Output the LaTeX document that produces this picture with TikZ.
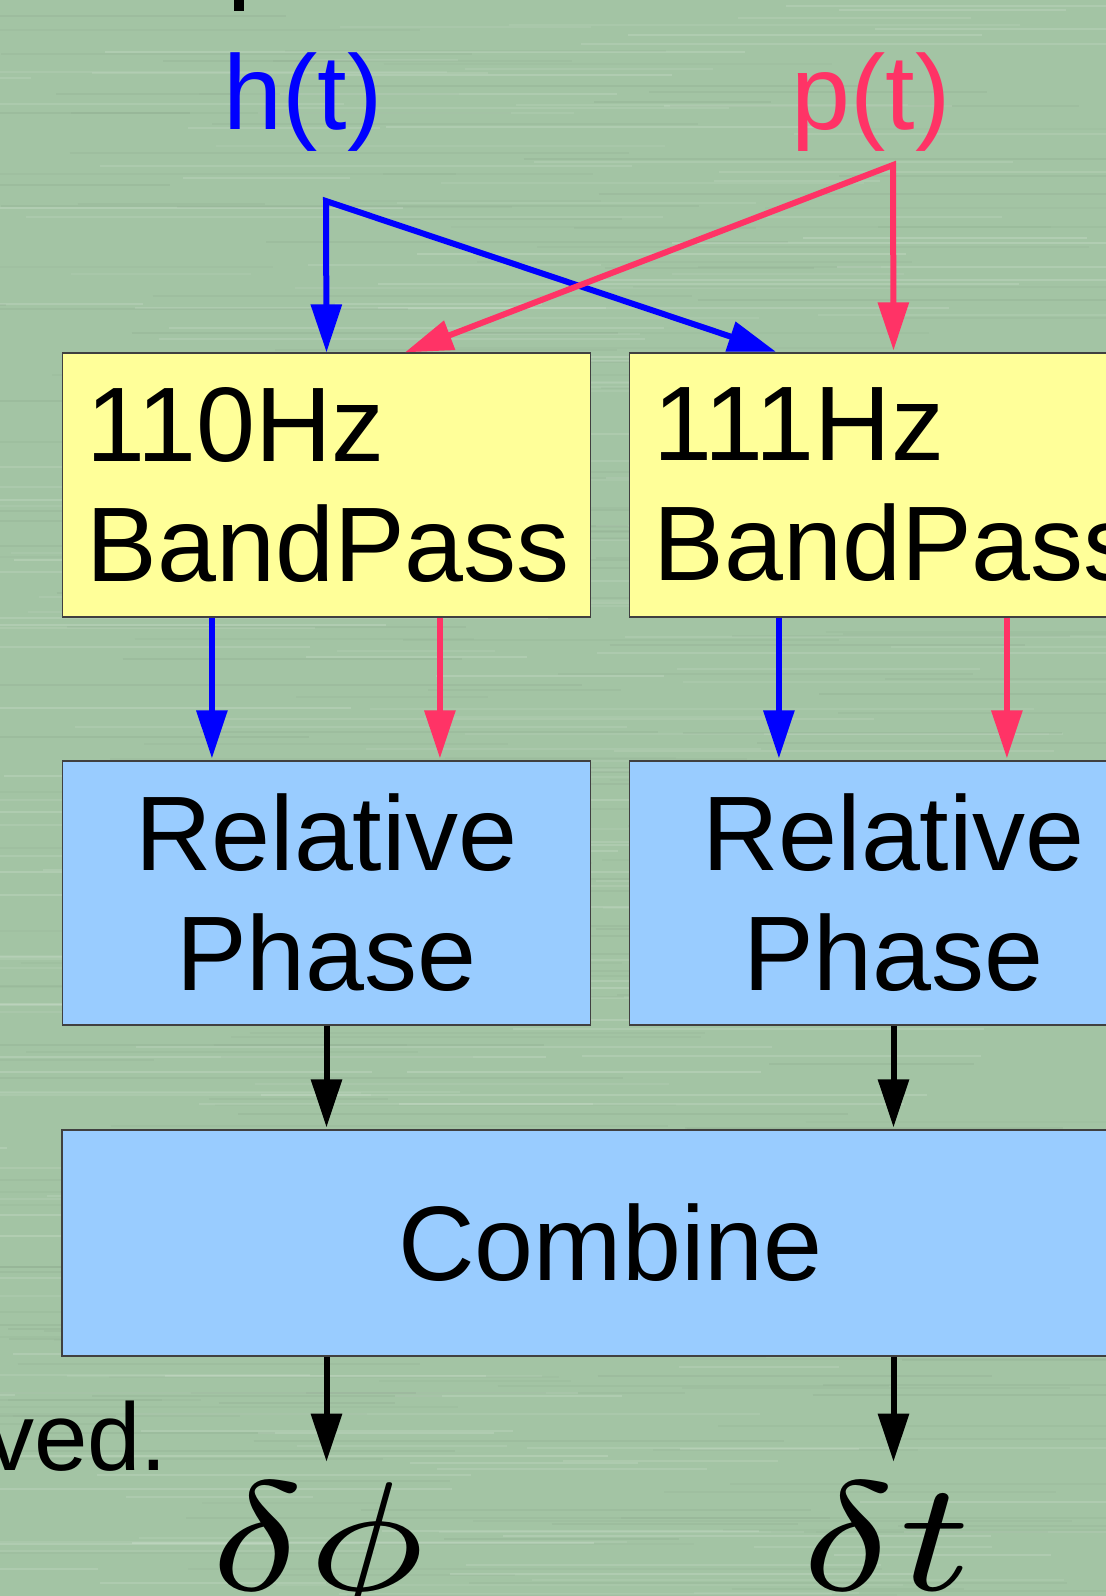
\documentclass[tikz,border=0pt]{standalone}
\usepackage{fontspec}
\setmainfont{Liberation Sans}
\usetikzlibrary{arrows.meta, calc, math}
\definecolor{bggreen}{RGB}{163,196,164}
\definecolor{filteryellow}{RGB}{255,255,153}
\definecolor{phaseblue}{RGB}{153,204,255}
\definecolor{sigred}{RGB}{255,51,102}
\definecolor{sigblue}{RGB}{0,0,255}
\newcommand{\bigmath}[1]{\scalebox{12.5}[11.1]{$\scriptstyle #1$}}

\begin{document}
\begin{tikzpicture}[x=0.5pt, y=-0.5pt,
  >={Triangle[length=24pt,width=15pt]},
  bigfont/.style={font=\fontsize{53}{60}\selectfont},
  mathfont/.style={font=\fontsize{10}{12}\selectfont, inner sep=12pt, anchor=base},
  filterbox/.style={draw=black!75, line width=0.6pt, fill=filteryellow, bigfont,
    text width=240pt, inner xsep=12pt, minimum height=132pt, align=left},
  phasebox/.style={filterbox, fill=phaseblue, align=center},
  sig/.style={line width=3pt, ->, shorten >=1pt},
]
\tikzmath{
\W=1106;
\H=1596;
\pa=150;
\pb=378;
\yb=485;
\yr=893;
}
\useasboundingbox (0,0) rectangle (\W,\H);
\clip (0,0) rectangle (\W,\H);
%background
\fill[bggreen] (0,0) rectangle (\W,\H);
\pgfmathsetseed{7}
\foreach \k in {1,...,260}{
  \pgfmathsetmacro{\sx}{rnd*\W-200}
  \pgfmathsetmacro{\sy}{rnd*\H}
  \pgfmathsetmacro{\sl}{150+rnd*550}
  \pgfmathsetmacro{\so}{0.06+0.1*rnd}
  \draw[line width=1pt, white, opacity=\so] (\sx,\sy) -- ++(\sl,0);
  \pgfmathsetmacro{\sx}{rnd*\W-200}
  \pgfmathsetmacro{\sy}{rnd*\H}
  \draw[line width=1pt, bggreen!75!black, opacity=\so] (\sx,\sy) -- ++(\sl,0);
}
\fill (234,0) rectangle (244,11);

%signals
\node[bigfont, text=sigblue] (hsig) at (303,102) {h(t)};
\node[bigfont, text=sigred] (psig) at (871,102) {p(t)};
\coordinate (hsplit) at (326,201);
\coordinate (psplit) at (893,165);

%filters
\node[filterbox] (bp110) at (326.5,\yb) {110Hz\\BandPass};
\node[filterbox] (bp111) at (893.5,\yb) {111Hz\\BandPass};
\node[phasebox] (rp110) at (326.5,\yr) {Relative\\Phase};
\node[phasebox] (rp111) at (893.5,\yr) {Relative\\Phase};
\node[phasebox, text width=524.5pt, minimum height=113pt] (comb) at (610.5,1243) {Combine};

%outputs
\node[mathfont] (dphi) at (318,1590) {\bigmath{\delta\phi}};
\node[mathfont] (dt) at (887,1590) {\bigmath{\delta t}};
\node[font=\fontsize{48}{56}\selectfont, anchor=base east, inner sep=0] (ved) at (168,1470) {ved.};

\draw[sig, <->, sigblue, miter limit=20] (bp110.north) -- (hsplit) -- ($(bp111.north west)+(149,0)$);
\draw[sig, <->, sigred, miter limit=20] ($(bp110.north west)+(343,0)$) -- (psplit) -- (bp111.north);

\foreach \b/\r in {bp110/rp110, bp111/rp111}{
  \draw[sig, sigblue] ($(\b.south west)+(\pa,0)$) -- ($(\r.north west)+(\pa,0)$);
  \draw[sig, sigred] ($(\b.south west)+(\pb,0)$) -- ($(\r.north west)+(\pb,0)$);
  \draw[sig] (\r.south) -- (\r.south |- comb.north);
}
\draw[sig] (rp110.south |- comb.south) -- ([yshift=-3pt]rp110.south |- dphi.north);
\draw[sig] (rp111.south |- comb.south) -- ([yshift=-3pt]rp111.south |- dt.north);
\end{tikzpicture}
\end{document}
